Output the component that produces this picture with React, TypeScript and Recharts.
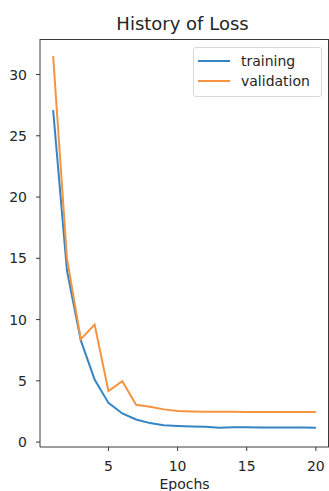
import { Line, LineChart, XAxis, YAxis } from "recharts"

const epochs = [1, 2, 3, 4, 5, 6, 7, 8, 9, 10, 11, 12, 13, 14, 15, 16, 17, 18, 19, 20]
const trainingLoss = [27.1, 14.0, 8.3, 5.1, 3.2, 2.34, 1.85, 1.55, 1.38, 1.32, 1.28, 1.26, 1.18, 1.22, 1.22, 1.2, 1.2, 1.2, 1.2, 1.18]
const validationLoss = [31.5, 15.0, 8.4, 9.6, 4.16, 4.97, 3.05, 2.88, 2.67, 2.53, 2.5, 2.48, 2.47, 2.47, 2.45, 2.45, 2.45, 2.45, 2.45, 2.45]
const xTicks = [5, 10, 15, 20]
const yTicks = [0, 5, 10, 15, 20, 25, 30]

const data = epochs.map((epoch, i) => ({ epoch, training: trainingLoss[i], validation: validationLoss[i] }))

const blue = "#3585c4"
const orange = "#f59440"
const axisColor = "#3a3a3a"
const textColor = "#262626"
const font = "DejaVu Sans, sans-serif"

document.body.style.margin = "0"

function LossLegend() {
  const rows = [
    { name: "training", color: blue },
    { name: "validation", color: orange },
  ]
  return (
    <div style={{ position: "absolute", top: 47, left: 193, width: 129, height: 50, boxSizing: "border-box", border: "1px solid #d8d8d8", borderRadius: 3, background: "#fff", padding: "3px 6px 5px 4px", fontFamily: font, fontSize: 14, color: textColor }}>
      {rows.map((r) => (
        <div key={r.name} style={{ display: "flex", alignItems: "center", height: 20 }}>
          <div style={{ width: 32, height: 2, background: r.color, marginRight: 11 }} />
          <span>{r.name}</span>
        </div>
      ))}
    </div>
  )
}

export default function App() {
  return (
    <div style={{ position: "relative", width: 329, height: 491, background: "#fff", overflow: "hidden" }}>
      <div style={{ position: "absolute", top: 13, left: 38, width: 289, textAlign: "center", fontFamily: font, fontSize: 18, color: textColor }}>
        History of Loss
      </div>
      <LineChart width={329} height={491} data={data} margin={{ top: 39, right: 0, bottom: 0, left: 0 }}>
        <XAxis
          dataKey="epoch"
          type="number"
          domain={[0.05, 20.95]}
          allowDataOverflow
          ticks={xTicks}
          height={44}
          tickSize={4}
          tickMargin={10}
          stroke={axisColor}
          tick={{ fill: textColor, fontSize: 14, fontFamily: font }}
          label={{ value: "Epochs", position: "insideBottom", offset: 2, fill: textColor, fontSize: 14, fontFamily: font }}
        />
        <YAxis
          type="number"
          domain={[-0.4, 32.9]}
          allowDataOverflow
          ticks={yTicks}
          width={40}
          tickSize={4}
          tickMargin={9}
          stroke={axisColor}
          tick={{ fill: textColor, fontSize: 14, fontFamily: font }}
        />
        <Line type="linear" dataKey="training" stroke={blue} strokeWidth={2} dot={false} isAnimationActive={false} />
        <Line type="linear" dataKey="validation" stroke={orange} strokeWidth={2} dot={false} isAnimationActive={false} />
      </LineChart>
      <div style={{ position: "absolute", top: 39, left: 40, width: 288, height: 407, border: `1px solid ${axisColor}`, borderLeft: "none", borderBottom: "none", pointerEvents: "none" }} />
      <LossLegend />
    </div>
  )
}
